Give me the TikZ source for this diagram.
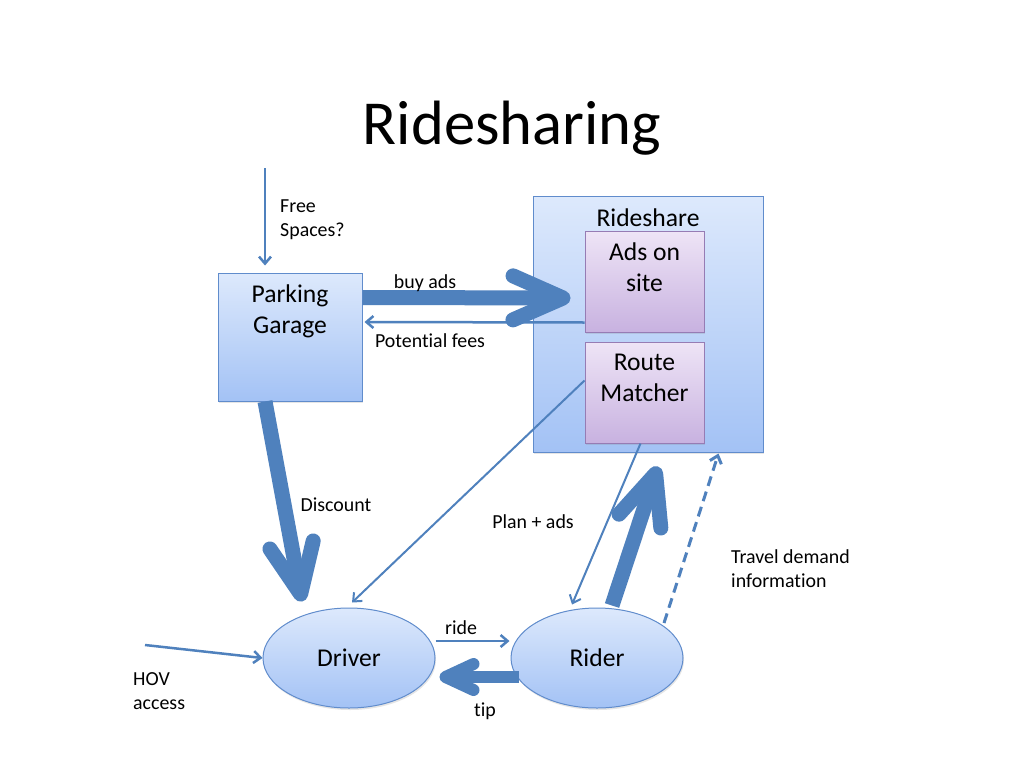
\documentclass[tikz,border=0pt]{standalone}
\usepackage{fontspec}
\setmainfont[Ligatures=NoCommon]{Carlito}
\usetikzlibrary{arrows.meta,positioning,calc,shapes.geometric,shadows}
\definecolor{arrowblue}{RGB}{79,129,189}
\definecolor{boxtop}{RGB}{221,233,252}
\definecolor{boxbot}{RGB}{163,194,245}
\definecolor{boxline}{RGB}{96,140,204}
\definecolor{purtop}{RGB}{238,228,246}
\definecolor{purbot}{RGB}{200,178,224}
\definecolor{purline}{RGB}{150,124,180}

\begin{document}
\begin{tikzpicture}[x=1pt,y=-1pt,
  shd/.style={drop shadow={opacity=0.2,shadow xshift=1pt,shadow yshift=-2pt}},
  bx/.style={draw=boxline,line width=1pt,top color=boxtop,bottom color=boxbot,shd},
  px/.style={draw=purline,line width=1pt,top color=purtop,bottom color=purbot,shd},
  ell/.style={bx,ellipse,minimum width=172pt,minimum height=100pt,big},
  big/.style={font=\fontsize{25.6}{30.7}\selectfont},
  lbl/.style={font=\fontsize{19.9}{24}\selectfont,align=left,inner sep=0pt},
  inlbl/.style={big,align=center,anchor=north,yshift=-9pt},
  fat/.style={arrowblue,line width=15pt,-{Straight Barb[length=50pt,width=44pt,round]}},
  slim/.style={arrowblue,line width=2.5pt,-{Straight Barb[length=7pt,width=12pt]}}]
  \path[fill=white,use as bounding box] (0,0) rectangle (1024,768);
  \node[font=\fontsize{62.6}{75}\selectfont](title) at (512,128){Ridesharing};
  \node[bx,minimum width=230pt,minimum height=256pt,label={[big,anchor=north,yshift=-10pt,name=lrs]north:Rideshare}](rideshare) at (648,324){};
  \node[px,minimum width=119pt,minimum height=101pt,label={[inlbl,name=lads]north:Ads on\\site}](ads) at (644.5,281.5){};
  \node[px,minimum width=119pt,minimum height=101pt,label={[inlbl,name=lroute]north:Route\\Matcher}](route) at (644.5,392.5){};
  \node[bx,minimum width=144pt,minimum height=128pt,label={[inlbl,name=lgarage]north:Parking\\Garage}](garage) at (290,337){};
  \node[ell](driver) at (349,658){Driver};
  \node[ell](rider) at (597,658){Rider};
  \coordinate (fs) at (265,168);
  \coordinate (hov) at (145,645);
  \draw[slim] (fs) -- ($(fs |- garage.north)+(0,-7)$);
  \draw[fat] ($(garage.north east)+(0,25)$) -- ($(ads.west)+(-14,16.5)$);
  \draw[slim] ($(ads.south west)+(0,-10)$) -- ($(garage.east)+(2,-15)$);
  \draw[fat] ($(garage.south)+(-25,0)$) -- ($(driver.north)+(-47,-6)$);
  \draw[slim,line width=2pt] ($(route.west)+(0,-12)$) -- ($(driver.north)+(3,-5)$);
  \draw[slim,line width=2pt] ($(route.south)+(-4,0)$) -- ($(rider.north)+(-25,-3)$);
  \draw[fat] ($(rider.north)+(15,-2)$) -- ($(rideshare.south)+(10,14)$);
  \draw[arrowblue,line width=3pt,dash pattern=on 10pt off 6pt,-{Straight Barb[length=7pt,width=12pt]}] ($(rider.center)+(67,-35)$) -- ($(rideshare.south east)+(-45,1)$);
  \draw[slim] ($(driver.east)+(0,-17)$) -- ($(rider.west)+(-1,-17)$);
  \draw[arrowblue,line width=12pt,-{Straight Barb[length=28pt,width=26pt,round]}] ($(rider.west)+(8,19)$) -- ($(driver.east)+(4,19)$);
  \draw[slim] (hov) -- (driver.west);
  \node[lbl,anchor=west](lfree) at (280,220){Free\\Spaces?};
  \node[lbl](lbuy) at (425,283){buy ads};
  \node[lbl](lfees) at (430,341){Potential fees};
  \node[lbl](ldisc) at (336,505){Discount};
  \node[lbl](lplan) at (533,522){Plan + ads};
  \node[lbl,anchor=west](ltravel) at (731,569){Travel demand\\information};
  \node[lbl](lride) at (461,628){ride};
  \node[lbl](ltip) at (485,711){tip};
  \node[lbl,anchor=west](lhov) at (133,691){HOV\\access};
\end{tikzpicture}
\end{document}
